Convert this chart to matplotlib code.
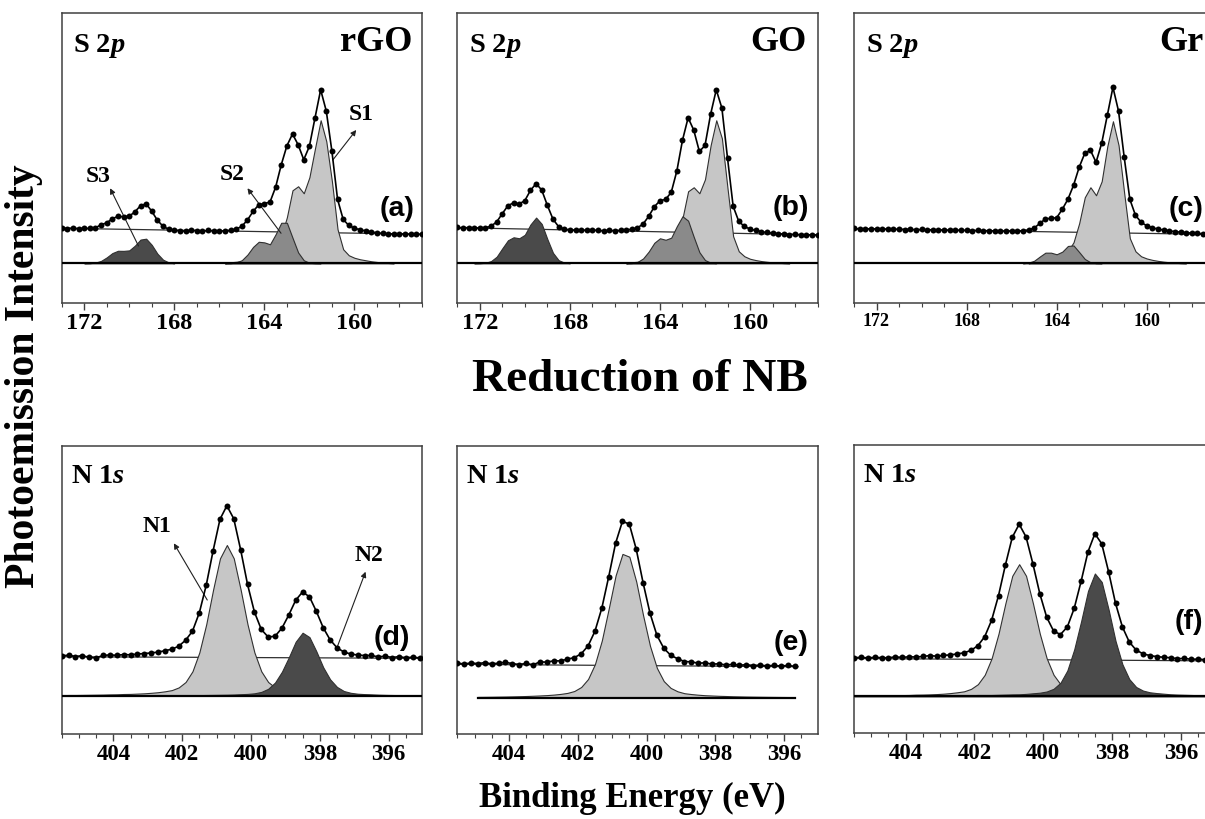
import numpy as np
import matplotlib
matplotlib.use("Agg")
import matplotlib.pyplot as plt
from matplotlib.ticker import MultipleLocator

plt.rcParams['font.family'] = ['Liberation Serif', 'DejaVu Serif']
plt.rcParams['font.weight'] = 'bold'
plt.rcParams['mathtext.fontset'] = 'custom'
plt.rcParams['mathtext.rm'] = 'Liberation Serif:bold'
plt.rcParams['mathtext.it'] = 'Liberation Serif:bold:italic'

# S 2p spectra: 173.0 -> 157.0 eV in 0.25 eV steps
s_step = 0.25
s_from = 173.0
# N 1s spectra: 405.5 -> 395.1 eV in 0.2 eV steps
n_step = 0.2
n_from = 405.5

# (a) rGO, S 2p
a_env = [35.5, 34.6, 35.2, 34.5, 35.0, 34.8, 35.5, 38.5, 40.5, 44.5, 47.0, 46.5, 47.0,
         51.5, 57.5, 59.5, 52.0, 43.0, 37.0, 34.0, 33.0, 32.5, 32.0, 33.0, 32.6, 32.2,
         32.8, 32.5, 32.0, 32.5, 33.0, 34.1, 37.0, 43.3, 51.9, 58.4, 59.7, 61.2, 76.1,
         98.5, 117.4, 129.3, 118.5, 103.6, 117.0, 145.5, 173.5, 152.2, 112.0, 64.0, 43.9,
         37.8, 35.1, 33.5, 32.4, 31.3, 30.5, 29.8, 29.5, 29.2, 29.6, 29.0, 29.3, 28.8, 29.0]
a_bg = [35.0, 29.0]
a_s1_from = 165.75
a_s1 = [0.0, 1.0, 1.5, 2.2, 3.0, 4.0, 5.5, 7.5, 11.0, 16.0, 27.0, 46.0, 73.0, 77.0, 70.0,
        86.0, 115.0, 143.0, 122.0, 82.0, 34.0, 14.0, 8.0, 5.5, 4.0, 3.0, 2.0, 1.3, 0.7, 0.3, 0.0]
a_s2_from = 165.75
a_s2 = [0.0, 0.1, 0.8, 3.1, 8.7, 16.4, 21.5, 20.9, 19.0, 29.0, 40.5, 40.5, 25.5, 10.8, 3.0,
        0.5, 0.1, 0.0]
a_s3_from = 172.0
a_s3 = [0.0, 0.1, 0.7, 2.4, 5.9, 10.2, 12.5, 12.4, 12.9, 17.6, 23.7, 24.6, 18.4, 9.6, 3.6,
        0.9, 0.0]

# (b) GO, S 2p
b_env = [35.8, 35.3, 35.7, 35.1, 35.4, 35.5, 37.1, 41.4, 49.7, 57.6, 60.5, 59.3, 62.7,
         72.9, 79.7, 73.2, 57.9, 44.1, 36.6, 34.1, 33.4, 33.0, 33.3, 32.8, 33.1, 32.9,
         32.4, 32.8, 32.6, 32.9, 33.4, 34.0, 35.4, 39.3, 46.9, 56.6, 62.5, 63.9, 70.9,
         92.3, 123.0, 145.5, 133.2, 111.8, 117.8, 149.1, 173.5, 155.2, 105.1, 57.0, 41.9,
         36.8, 34.2, 32.8, 31.6, 30.8, 30.1, 29.6, 29.2, 28.7, 28.9, 28.4, 28.6, 28.2, 28.4]
b_bg = [35.6, 28.3]
b_s1_from = 165.5
b_s1 = [0.0, 1.0, 1.5, 2.2, 3.0, 4.5, 6.0, 9.0, 14.0, 24.0, 45.0, 72.0, 76.0, 70.0, 84.0,
        118.0, 143.0, 125.0, 75.0, 27.0, 12.0, 7.0, 4.5, 3.2, 2.2, 1.5, 0.9, 0.5, 0.2, 0.0]
b_s2_from = 165.5
b_s2 = [0.0, 0.2, 1.3, 4.8, 11.7, 20.5, 25.0, 23.5, 25.6, 37.1, 47.0, 42.6, 26.4, 11.1,
        3.2, 0.6, 0.1]
b_s3_from = 172.25
b_s3 = [0.0, 0.1, 0.5, 2.2, 6.6, 15.0, 23.0, 26.0, 25.0, 28.5, 38.8, 45.7, 39.3, 24.1,
        10.4, 3.1, 0.7, 0.1]

# (c) Gr, S 2p
c_env = [34.8, 34.3, 34.6, 34.2, 34.5, 34.0, 34.3, 33.8, 34.1, 33.7, 34.0, 33.5, 33.8,
         33.3, 33.6, 33.1, 33.4, 32.9, 33.2, 32.8, 33.0, 32.6, 32.9, 32.4, 32.7, 32.2,
         32.5, 32.0, 32.4, 32.1, 32.6, 33.3, 35.2, 39.8, 44.3, 45.0, 45.5, 54.0, 64.0,
         78.0, 96.0, 110.0, 113.0, 101.0, 120.0, 148.0, 176.0, 152.0, 106.0, 64.0, 48.0,
         41.0, 37.5, 35.5, 34.2, 33.2, 32.4, 31.7, 31.1, 30.6, 30.2, 29.8, 29.5, 29.2, 29.0]
c_bg = [34.6, 28.8]
c_s1_from = 165.25
c_s1 = [0.0, 1.0, 1.5, 2.2, 3.0, 4.5, 7.5, 12.0, 21.0, 40.0, 66.0, 76.0, 68.0, 82.0, 117.0,
        142.0, 118.0, 70.0, 25.0, 12.0, 7.0, 4.8, 3.4, 2.4, 1.6, 1.0, 0.5, 0.2, 0.0]
c_s2_from = 165.5
c_s2 = [0.0, 0.6, 2.5, 6.7, 10.6, 10.6, 9.0, 11.6, 17.3, 17.8, 11.2, 4.3, 1.0, 0.1, 0.0]

# (d) rGO, N 1s
d_env = [39.8, 40.6, 39.2, 40.1, 38.3, 37.8, 40.3, 40.8, 40.4, 41.2, 40.9, 41.7, 42.2,
         42.8, 43.6, 45.0, 46.5, 49.5, 55.5, 64.5, 83.0, 110.5, 145.0, 176.5, 190.0, 177.0,
         146.0, 111.4, 83.8, 66.3, 58.7, 59.5, 67.6, 80.8, 95.5, 103.8, 98.9, 84.4, 68.0,
         55.9, 48.0, 43.7, 41.7, 40.7, 40.2, 40.3, 38.8, 39.6, 38.2, 39.1, 37.9, 38.6, 37.8]
d_bg = [39.0, 37.4]
d_n1 = [0.5, 0.7, 0.7, 0.8, 0.9, 1.0, 1.1, 1.3, 1.4, 1.7, 1.8, 2.1, 2.4, 2.9, 3.5, 4.4,
        5.6, 8.3, 13.7, 24.4, 43.3, 71.4, 106.1, 137.4, 150.7, 137.4, 106.1, 71.4, 43.3,
        24.4, 13.7, 8.3, 5.6, 4.4, 3.5, 2.9, 2.4, 2.1, 1.8, 1.7, 1.4, 1.3, 1.1, 1.0, 0.9,
        0.8, 0.7, 0.7, 0.6, 0.6, 0.5, 0.5, 0.5]
d_n2 = [0.2, 0.2, 0.2, 0.2, 0.2, 0.2, 0.3, 0.3, 0.3, 0.3, 0.3, 0.4, 0.4, 0.4, 0.4, 0.5,
        0.5, 0.5, 0.6, 0.6, 0.6, 0.7, 0.8, 0.9, 1.0, 1.2, 1.5, 1.8, 2.4, 3.8, 6.9, 13.2,
        24.0, 38.4, 54.0, 63.0, 58.6, 44.4, 28.4, 16.4, 8.8, 4.7, 2.9, 2.0, 1.6, 1.3, 1.0,
        0.8, 0.7, 0.6, 0.5, 0.4, 0.4]

# (e) GO, N 1s
e_env = [34.8, 33.6, 34.9, 34.0, 35.2, 33.8, 34.6, 35.4, 34.1, 33.2, 34.3, 32.9, 35.8,
         35.6, 36.9, 36.8, 38.6, 40.1, 43.9, 51.8, 66.5, 89.6, 121.0, 154.5, 176.5, 173.5,
         148.5, 114.8, 84.5, 62.5, 49.5, 42.5, 39.0, 36.2, 35.9, 34.5, 34.9, 33.6, 33.9,
         32.8, 33.3, 32.5, 33.0, 32.2, 32.6, 31.8, 32.4, 31.6, 32.3, 31.4]
e_bg = [33.4, 31.0]
e_n1_from = 404.9
e_n1 = [0.8, 0.87, 0.96, 1.07, 1.18, 1.33, 1.5, 1.7, 1.95, 2.25, 2.6, 3.1, 3.8, 4.8, 6.7,
        10.7, 18.7, 33.6, 57.2, 89.1, 122.2, 143.8, 141.0, 116.1, 82.3, 51.8, 29.8, 16.6,
        9.8, 6.4, 4.5, 3.65, 3.0, 2.5, 2.2, 1.9, 1.7, 1.45, 1.3, 1.15, 1.05, 0.95, 0.86,
        0.79, 0.72, 0.66, 0.6]

# (f) Gr, N 1s
f_env = [38.3, 39.0, 38.2, 38.9, 38.5, 38.4, 39.3, 38.8, 39.4, 39.2, 39.7, 40.6, 40.0,
         40.8, 41.3, 42.3, 43.4, 45.8, 50.5, 59.6, 76.0, 100.6, 131.2, 158.9, 172.0, 159.3,
         132.3, 102.5, 79.0, 65.2, 61.7, 69.3, 87.9, 114.9, 144.4, 162.5, 152.4, 124.3,
         92.9, 69.3, 54.2, 46.1, 42.4, 40.6, 39.6, 38.9, 38.5, 37.5, 37.8, 36.9, 37.1,
         36.5, 36.8]
f_bg = [37.7, 35.3]
f_n1 = [0.5, 0.6, 0.6, 0.7, 0.8, 0.9, 1.0, 1.1, 1.2, 1.5, 1.6, 1.8, 2.1, 2.5, 3.1, 3.9,
        4.9, 7.3, 12.0, 21.4, 37.9, 62.5, 92.9, 120.4, 132.0, 120.4, 92.9, 62.5, 37.9,
        21.4, 12.0, 7.3, 4.9, 3.9, 3.1, 2.5, 2.1, 1.8, 1.6, 1.5, 1.2, 1.1, 1.0, 0.9, 0.8,
        0.7, 0.6, 0.6, 0.5, 0.5, 0.45, 0.45, 0.4]
f_n2 = [0.4, 0.4, 0.4, 0.4, 0.4, 0.4, 0.6, 0.6, 0.6, 0.6, 0.6, 0.8, 0.8, 0.8, 0.8, 1.0,
        1.0, 1.0, 1.2, 1.2, 1.2, 1.4, 1.6, 1.8, 1.9, 2.3, 2.9, 3.5, 4.7, 7.4, 13.4, 25.7,
        46.8, 74.8, 105.2, 122.7, 114.2, 86.5, 55.3, 31.9, 17.1, 9.2, 5.6, 3.9, 3.1, 2.5,
        1.9, 1.6, 1.4, 1.2, 1.0, 0.8, 0.8]

s_xlim = (173.0, 157.0)
n_xlim = (405.5, 395.03)

light = '#c6c6c6'
mid = '#8a8a8a'
dark = '#4a4a4a'


def energies(start, n, step):
    return start - step * np.arange(n)


def draw_panel(ax, step, env_from, env, bg, bg_x, base_x, comps):
    # background line under everything
    ax.plot(bg_x, bg, color='#303030', lw=0.9, zorder=1)
    for start, vals, color in comps:
        e = energies(start, len(vals), step)
        ax.fill_between(e, 0, vals, facecolor=color, edgecolor='#303030',
                        lw=0.8, zorder=2)
    ax.plot(base_x, [0, 0], color='black', lw=1.6, zorder=3)
    e = energies(env_from, len(env), step)
    ax.plot(e, env, color='black', lw=1.2, marker='o', ms=4.3,
            markeredgewidth=0, zorder=5)
    ax.set_yticks([])
    for sp in ax.spines.values():
        sp.set_color('#404040')
        sp.set_linewidth(1.1)


fig = plt.figure(figsize=(12.05, 8.19), dpi=100)

top_b, top_h = 0.6297, 0.3541
bot_b, bot_h = 0.1034, 0.3520
lefts = [0.0512, 0.3795, 0.7087]
w = 0.2990

ax_a = fig.add_axes([lefts[0], top_b, w, top_h])
ax_b = fig.add_axes([lefts[1], top_b, w, top_h])
ax_c = fig.add_axes([lefts[2], top_b, w, top_h])
ax_d = fig.add_axes([lefts[0], bot_b, w, bot_h])
ax_e = fig.add_axes([lefts[1], bot_b, w, bot_h])
ax_f = fig.add_axes([lefts[2], bot_b + 0.001, w, bot_h])

draw_panel(ax_a, s_step, s_from, a_env, a_bg, s_xlim, s_xlim,
           [(a_s1_from, a_s1, light), (a_s2_from, a_s2, mid), (a_s3_from, a_s3, dark)])
draw_panel(ax_b, s_step, s_from, b_env, b_bg, s_xlim, s_xlim,
           [(b_s1_from, b_s1, light), (b_s2_from, b_s2, mid), (b_s3_from, b_s3, dark)])
draw_panel(ax_c, s_step, s_from, c_env, c_bg, s_xlim, s_xlim,
           [(c_s1_from, c_s1, light), (c_s2_from, c_s2, mid)])
draw_panel(ax_d, n_step, n_from, d_env, d_bg, n_xlim, n_xlim,
           [(n_from, d_n1, light), (n_from, d_n2, dark)])
draw_panel(ax_e, n_step, n_from, e_env, e_bg, (405.5, 395.6), (404.9, 395.7),
           [(e_n1_from, e_n1, light)])
draw_panel(ax_f, n_step, n_from, f_env, f_bg, n_xlim, n_xlim,
           [(n_from, f_n1, light), (n_from, f_n2, dark)])

for ax, size in [(ax_a, 17.5), (ax_b, 17.5), (ax_c, 13)]:
    ax.set_xlim(*s_xlim)
    ax.set_ylim(-40, 250)
    ax.xaxis.set_major_locator(MultipleLocator(4))
    ax.xaxis.set_minor_locator(MultipleLocator(1))
    ax.tick_params(axis='x', which='major', direction='out', length=5, width=1,
                   labelsize=size, pad=2, color='#404040')
    ax.tick_params(axis='x', which='minor', direction='out', length=3, width=0.8,
                   color='#404040')
    ax.text(0.032, 0.865, 'S 2$p$', transform=ax.transAxes, fontsize=20.5,
            ha='left', va='baseline')

for ax, ylo in [(ax_d, -38.6), (ax_e, -36.6), (ax_f, -37.3)]:
    ax.set_xlim(*n_xlim)
    ax.set_ylim(ylo, ylo + 288.3)
    ax.xaxis.set_major_locator(MultipleLocator(2))
    ax.xaxis.set_minor_locator(MultipleLocator(0.5))
    ax.tick_params(axis='x', which='major', direction='out', length=5, width=1,
                   labelsize=16.5, pad=2, color='#404040')
    ax.tick_params(axis='x', which='minor', direction='out', length=3, width=0.8,
                   color='#404040')
    ax.text(0.025, 0.872, 'N 1$s$', transform=ax.transAxes, fontsize=20.5,
            ha='left', va='baseline')

# sample names
ax_a.text(0.972, 0.87, 'rGO', transform=ax_a.transAxes, fontsize=26,
          ha='right', va='baseline')
ax_b.text(0.969, 0.87, 'GO', transform=ax_b.transAxes, fontsize=26,
          ha='right', va='baseline')
ax_c.text(0.969, 0.87, 'Gr', transform=ax_c.transAxes, fontsize=26,
          ha='right', va='baseline')

# panel letters
letter_font = dict(family='Liberation Sans', fontsize=20.5, fontweight='bold',
                   ha='right', va='baseline')
ax_a.text(0.979, 0.30, '(a)', transform=ax_a.transAxes, **letter_font)
ax_b.text(0.976, 0.304, '(b)', transform=ax_b.transAxes, **letter_font)
ax_c.text(0.97, 0.30, '(c)', transform=ax_c.transAxes, **letter_font)
ax_d.text(0.967, 0.31, '(d)', transform=ax_d.transAxes, **letter_font)
ax_e.text(0.975, 0.292, '(e)', transform=ax_e.transAxes, **letter_font)
ax_f.text(0.97, 0.363, '(f)', transform=ax_f.transAxes, **letter_font)

# component labels with arrows
arrow = dict(arrowstyle='-|>', lw=0.8, color='#202020', mutation_scale=8,
             shrinkA=0, shrinkB=0)
ax_a.text(171.37, 86.6, 'S3', fontsize=17, ha='center', va='center')
ax_a.annotate('', xy=(170.85, 75), xytext=(169.59, 17.3), arrowprops=arrow)
ax_a.text(165.42, 88.3, 'S2', fontsize=17, ha='center', va='center')
ax_a.annotate('', xy=(164.75, 75), xytext=(163.26, 30), arrowprops=arrow)
ax_a.text(159.69, 148.3, 'S1', fontsize=17, ha='center', va='center')
ax_a.annotate('', xy=(159.92, 133.3), xytext=(160.96, 103.3), arrowprops=arrow)

ax_d.text(402.72, 169, 'N1', fontsize=17, ha='center', va='center')
ax_d.annotate('', xy=(402.24, 152.4), xytext=(401.27, 95.7), arrowprops=arrow)
ax_d.text(396.57, 140.7, 'N2', fontsize=17, ha='center', va='center')
ax_d.annotate('', xy=(396.67, 124), xytext=(397.49, 49), arrowprops=arrow)

fig.text(0.02, 0.541, 'Photoemission Intensity', rotation=90, fontsize=30,
         ha='center', va='center')
fig.text(0.531, 0.536, 'Reduction of NB', fontsize=34, ha='center', va='center')
fig.text(0.5245, 0.025, 'Binding Energy (eV)', fontsize=25, ha='center', va='center')

fig.savefig('out.png', dpi=100)
